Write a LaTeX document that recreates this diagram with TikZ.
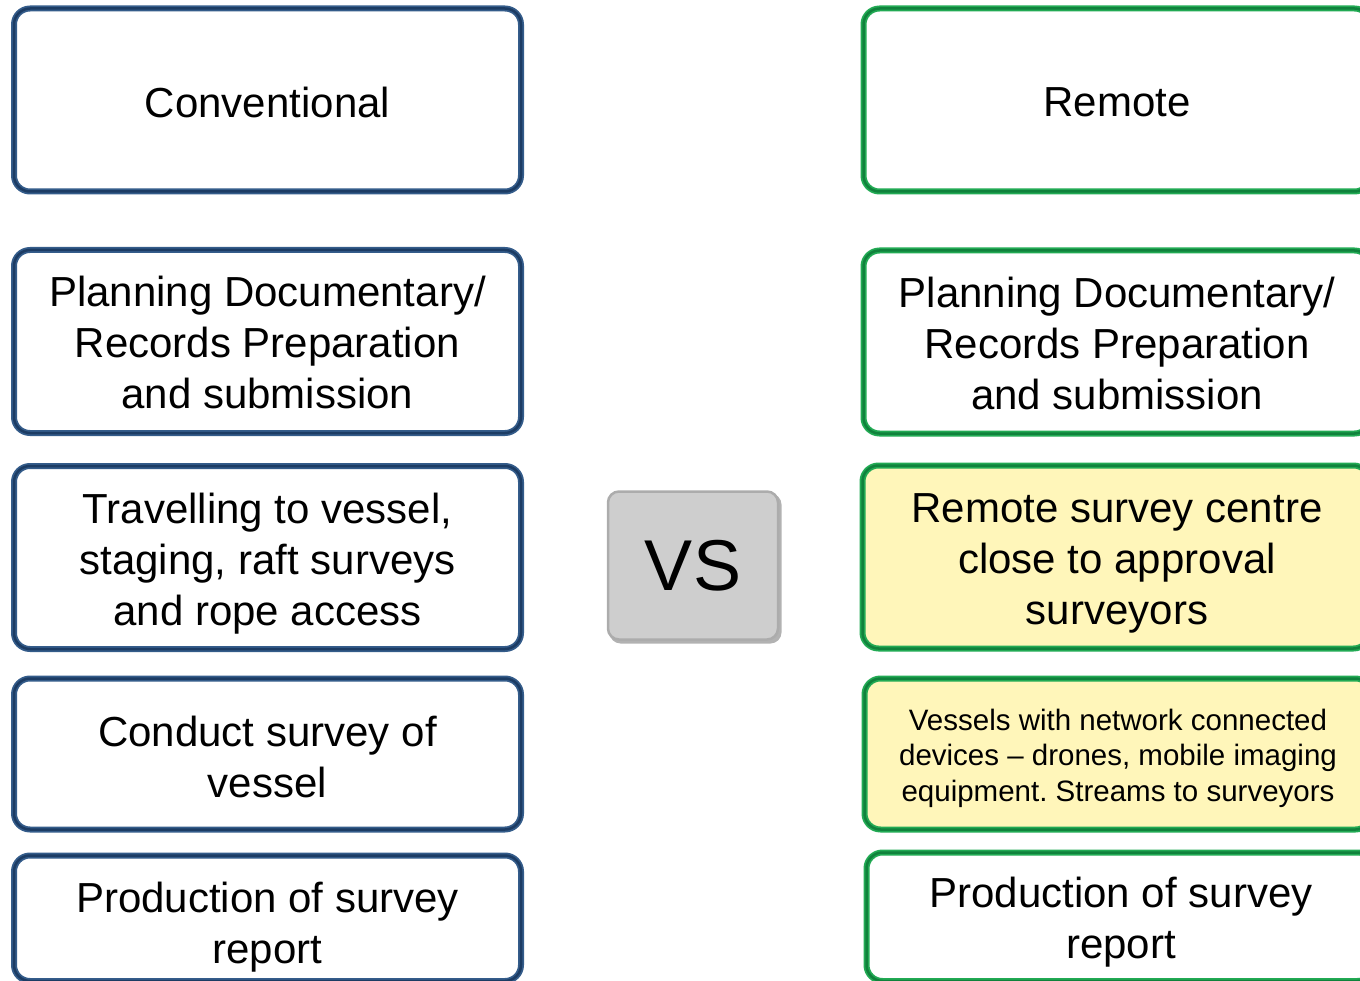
\documentclass[tikz,border=0pt]{standalone}
\usepackage{fontspec}
\setmainfont{Liberation Sans}
\frenchspacing
\definecolor{blueL}{RGB}{52,92,138}
\definecolor{blueD}{RGB}{28,60,100}
\definecolor{greenL}{RGB}{34,170,84}
\definecolor{greenD}{RGB}{16,130,60}
\definecolor{yellowF}{RGB}{255,246,186}
\definecolor{vsgray}{RGB}{206,206,206}
\tikzset{
  box/.style={rectangle, rounded corners=16, line width=6, minimum width=507, inner sep=0},
  bluebox/.style={box, draw=blueL, fill=white, postaction={draw=blueD, line width=2.5}},
  greenbox/.style={box, draw=greenL, fill=white, postaction={draw=greenD, line width=2.5}},
  yellowbox/.style={greenbox, fill=yellowF},
  txt/.style={align=center, inner sep=0, font=\fontsize{42}{51}\selectfont},
  smalltext/.style={align=center, inner sep=0, font=\fontsize{29.5}{35.5}\selectfont},
  vsbox/.style={rectangle, rounded corners=11, minimum width=170, minimum height=148, inner sep=0,
    fill=vsgray, draw=gray!65, line width=2.5, font=\fontsize{72}{80}\selectfont},
  vsshadow/.style={rectangle, rounded corners=11, minimum width=172, minimum height=150, fill=gray!60, draw=none},
}
\begin{document}
\begin{tikzpicture}[x=1pt,y=-1pt]
\useasboundingbox (0,0) rectangle (1360,981);
\clip (0,0) rectangle (1360,981);
% left column
\node[bluebox, minimum height=183] (c1) at (267.5,100) {};
\node[txt] (tc1) at (267.5,102) {Conventional};
\node[bluebox, minimum height=183] (c2) at (267.5,341.5) {};
\node[txt] (tc2) at (267.5,342.5) {Planning Documentary/\\Records Preparation\\and submission};
\node[bluebox, minimum height=183] (c3) at (267.5,557.5) {};
\node[txt] (tc3) at (267.5,563.5) {Travelling to vessel,\\staging, raft surveys\\and rope access};
\node[bluebox, minimum height=151] (c4) at (267.5,754) {};
\node[txt] (tc4) at (267.5,757) {Conduct survey of\\vessel};
\node[bluebox, minimum height=125.5] (c5) at (267.5,918.25) {};
\node[txt] (tc5) at (267.5,927.5) {Production of survey\\report};
% right column
\node[greenbox, minimum height=183] (r1) at (1117,100) {};
\node[txt] (tr1) at (1117,102) {Remote};
\node[greenbox, minimum height=183] (r2) at (1117,342) {};
\node[txt] (tr2) at (1117,343.5) {Planning Documentary/\\Records Preparation\\and submission};
\node[yellowbox, minimum height=183] (r3) at (1116,557) {};
\node[txt] (tr3) at (1117,563) {Remote survey centre\\close to approval\\surveyors};
\node[yellowbox, minimum height=151] (r4) at (1118,754) {};
\node[smalltext] (tr4) at (1118,758) {Vessels with network connected\\devices -- drones, mobile imaging\\equipment. Streams to surveyors};
\node[greenbox, minimum height=128.5] (r5) at (1120,916.75) {};
\node[txt] (tr5) at (1121,922.5) {Production of survey\\report};
% VS
\node[vsshadow] (vss) at (695.5,568.5) {};
\node[vsbox] (vs) at (693,565.5) {VS};
\end{tikzpicture}
\end{document}
